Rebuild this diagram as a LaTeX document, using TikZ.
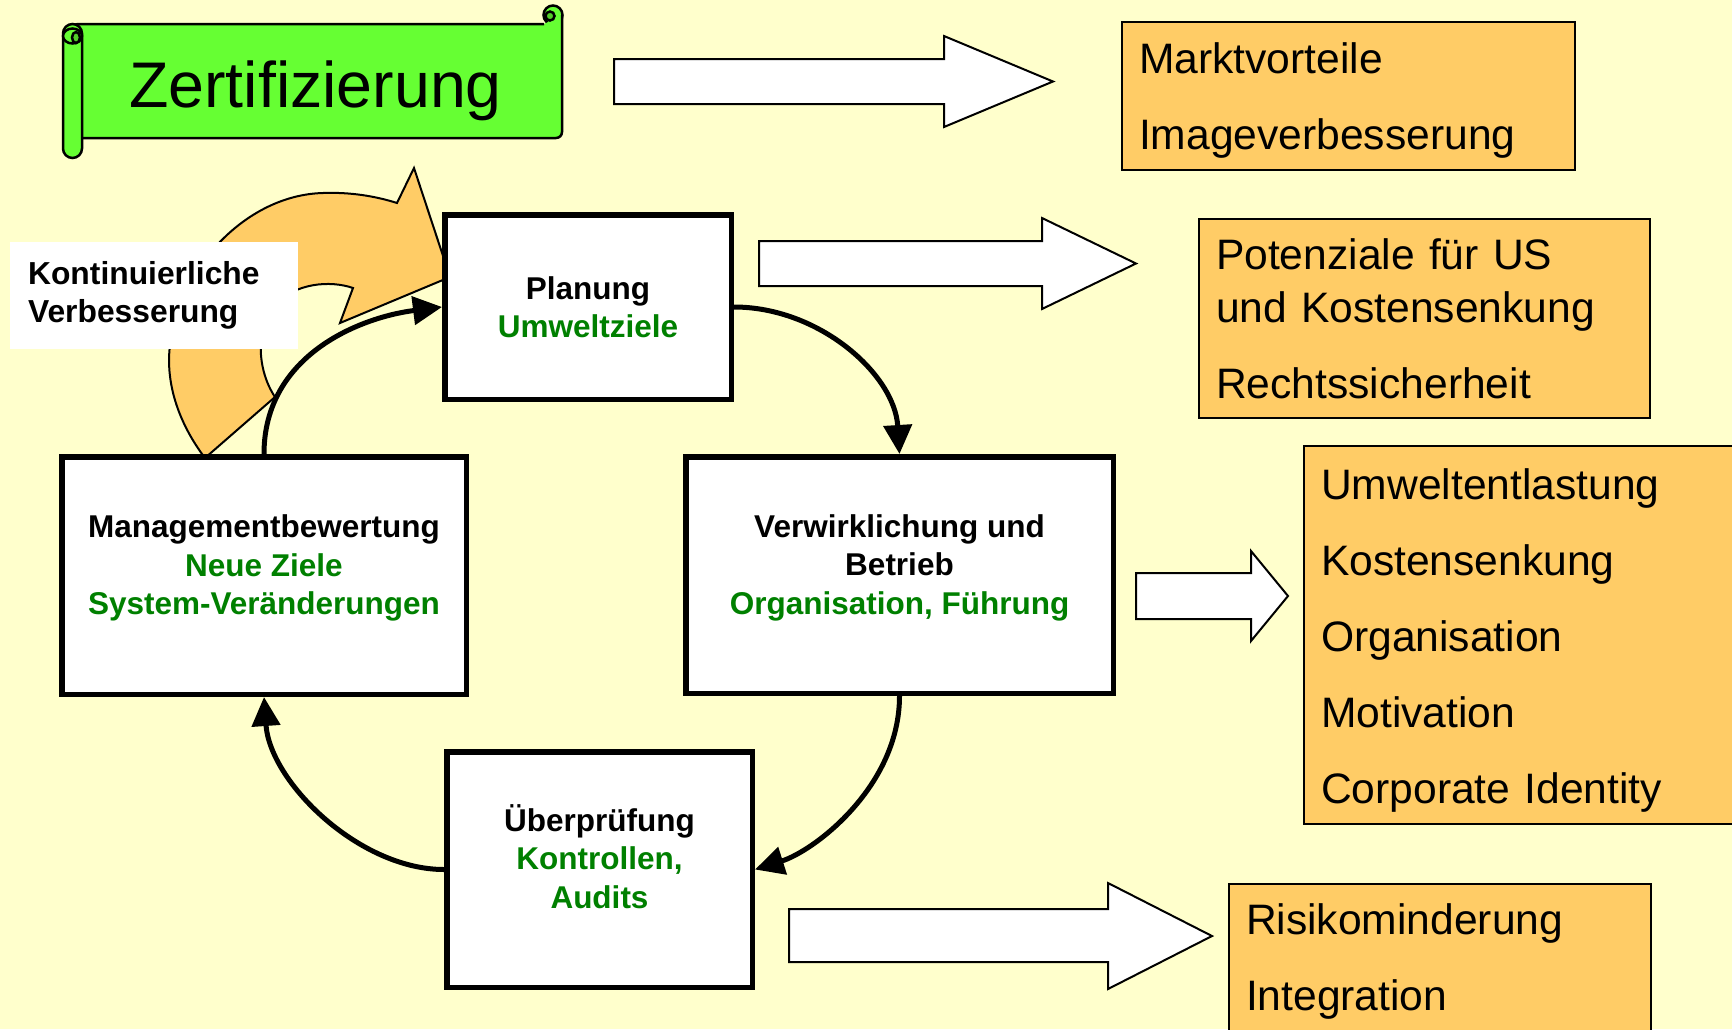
\documentclass[tikz,border=0pt]{standalone}
\usepackage{fontspec}
\setmainfont{Liberation Sans}
\usetikzlibrary{arrows.meta}
\definecolor{bg}{HTML}{FFFFCC}
\definecolor{orangebox}{HTML}{FFCC66}
\definecolor{scrollgreen}{HTML}{66FF33}
\definecolor{curlgreen}{HTML}{52CC29}
\definecolor{txtgreen}{HTML}{008000}
\begin{document}
\begin{tikzpicture}[x=1pt,y=-1pt,
  box/.style={draw=black, line width=5.5pt, fill=white, inner sep=0pt, align=center,
    font=\fontsize{31.5}{38.5}\selectfont\bfseries},
  conn/.style={line width=5pt, -{Triangle[length=29pt,width=28pt]}},
  obox/.style={draw=black, line width=2pt, fill=orangebox, inner xsep=17pt, inner ysep=0pt,
    align=left, font=\fontsize{42.6}{53}\selectfont},
  blockarrow/.style={draw=black, line width=2pt, fill=white, line join=miter},
  sc/.style={draw=black, line width=2.5pt, fill=scrollgreen},
  lbl/.style={fill=white, inner xsep=18.5pt, inner ysep=0pt, align=left,
    font=\fontsize{31.8}{37.7}\selectfont\bfseries},
]
\fill[bg] (0,0) rectangle (1732,1029);
\useasboundingbox (0,0) rectangle (1732,1029);

% scroll
\draw[sc] (553,15) circle[radius=9.5];
\draw[sc, rounded corners=6pt] (544,24) -- (72,24) -- (72,138) -- (562,138) -- (562,15);
\draw[sc, fill=curlgreen] (550,16) circle[radius=4.5];
\draw[sc, rounded corners=9.5pt] (63,24) rectangle (82,158);
\draw[sc] (72.5,36) ellipse[x radius=9.5, y radius=7.5];
\draw[sc, fill=curlgreen] (76,37.5) ellipse[x radius=4, y radius=5.5];
\node[anchor=base, font=\fontsize{64.5}{77}\selectfont] (zert) at (315.5,107) {Zertifizierung};

% block arrows
\draw[blockarrow] (614,59) -- (944,59) -- (944,36) -- (1053,81.5) -- (944,127) -- (944,104) -- (614,104) -- cycle;
\draw[blockarrow] (759,241) -- (1042,241) -- (1042,218) -- (1136,263.5) -- (1042,309) -- (1042,286) -- (759,286) -- cycle;
\draw[blockarrow] (1136,573) -- (1251,573) -- (1251,551) -- (1288,596) -- (1251,641) -- (1251,619) -- (1136,619) -- cycle;
\draw[blockarrow] (789,909) -- (1108,909) -- (1108,883) -- (1212,936) -- (1108,989) -- (1108,962) -- (789,962) -- cycle;

% orange boxes
\node[obox, text width=419pt, minimum height=148pt] (markt) at (1348.5,96)
  {\rule{0pt}{39pt}Marktvorteile\\[23pt]Imageverbesserung};
\node[obox, text width=417pt, minimum height=199pt] (pot) at (1424.5,318.5)
  {Potenziale für US\\und Kostensenkung\\[23pt]Rechtssicherheit};
\node[obox, text width=421pt, minimum height=378pt] (umw) at (1531.5,635)
  {\rule{0pt}{42pt}Umweltentlastung\\[23pt]Kostensenkung\\[23pt]Organisation\\[23pt]Motivation\\[23pt]Corporate Identity};
\node[obox, text width=388pt, minimum height=155pt] (risk) at (1440,961.5)
  {Risikominderung\\[23pt]Integration};

% orange curved arrow
\draw[line width=2pt, fill=orangebox, line join=miter]
  (205,458) .. controls (180,425) and (165,385) .. (170,345)
  .. controls (178,270) and (245,195) .. (323,193)
  .. controls (350,192) and (375,196) .. (397,203)
  -- (414,168) -- (450,277) -- (340,323) -- (353,288)
  .. controls (330,280) and (295,283) .. (275,305)
  .. controls (255,328) and (257,370) .. (275,397) -- cycle;

% label
\node[lbl, text width=251.4pt, minimum height=107pt] (kv) at (153.8,295.5)
  {Kontinuierliche\\Verbesserung};

% cycle boxes
\node[box, minimum width=286.5pt, minimum height=184.5pt] (P) at (588,307)
  {Planung\\\textcolor{txtgreen}{Umweltziele}};
\node[box, minimum width=427.5pt, minimum height=236.5pt] (V) at (899.5,575)
  {Verwirklichung und\\Betrieb\\\textcolor{txtgreen}{Organisation, Führung}\rule[-21pt]{0pt}{0pt}};
\node[box, minimum width=404.5pt, minimum height=237.5pt] (M) at (264,575.5)
  {Managementbewertung\\\textcolor{txtgreen}{Neue Ziele}\\\textcolor{txtgreen}{System-Veränderungen}\rule[-21pt]{0pt}{0pt}};
\node[box, minimum width=305.5pt, minimum height=235.5pt] (U) at (599.5,869.5)
  {Überprüfung\\\textcolor{txtgreen}{Kontrollen,}\\\textcolor{txtgreen}{Audits}\rule[-26pt]{0pt}{0pt}};

% connectors
\draw[conn] (P.east) .. controls +(85,0) and +(-5,-80) .. (V.north);
\draw[conn] (V.south) .. controls +(0,90) and +(60,-19) .. (U.east);
\draw[conn] (U.west) .. controls +(-85,0) and +(6,85) .. (M.south);
\draw[conn] (M.north) .. controls +(0,-100) and +(-80,10) .. (P.west);
\end{tikzpicture}
\end{document}
